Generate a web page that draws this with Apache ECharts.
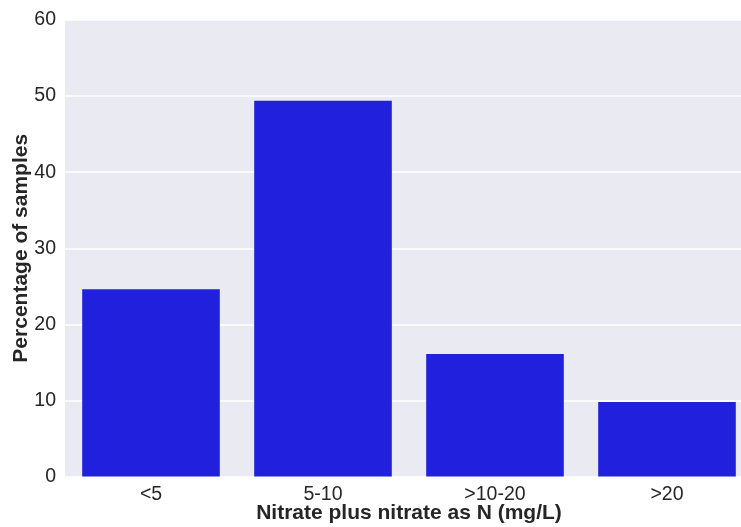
<!DOCTYPE html>
<html>
<head>
<meta charset="utf-8">
<script src="https://cdn.jsdelivr.net/npm/echarts@6/dist/echarts.min.js"></script>
<style>
html,body{margin:0;padding:0;background:#fff;overflow:hidden;}
#c{width:741px;height:527px;}
</style>
</head>
<body>
<div id="c"></div>
<script>
const categories = ["<5", "5-10", ">10-20", ">20"];
const percentages = [24.6, 49.4, 16.1, 9.8];
const yTicks = [0, 10, 20, 30, 40, 50, 60];

const chart = echarts.init(document.getElementById('c'), null, {renderer: 'canvas'});
const font = '"Liberation Sans", Arial, sans-serif';
chart.setOption({
  animation: false,
  backgroundColor: '#ffffff',
  grid: {
    left: 65, top: 20, width: 688, height: 456.5,
    outerBoundsMode: 'none',
    containLabel: false,
    show: true, backgroundColor: '#EAEAF2', borderWidth: 0
  },
  xAxis: {
    type: 'category',
    data: categories,
    axisLine: {show: false},
    axisTick: {show: false},
    splitLine: {show: false},
    axisLabel: {color: '#262626', fontSize: 19.5, fontFamily: font, margin: 8},
    name: 'Nitrate plus nitrate as N (mg/L)',
    nameLocation: 'middle',
    nameGap: 26,
    nameMoveOverlap: false,
    nameTextStyle: {color: '#262626', fontSize: 21, fontWeight: 'bold', fontFamily: font}
  },
  yAxis: {
    type: 'value',
    min: yTicks[0],
    max: yTicks[yTicks.length - 1],
    interval: 10,
    axisLine: {show: false},
    axisTick: {show: false},
    splitLine: {show: true, lineStyle: {color: '#ffffff', width: 1.5}},
    axisLabel: {color: '#262626', fontSize: 19.5, fontFamily: font, margin: 9},
    name: 'Percentage of samples',
    nameLocation: 'middle',
    nameGap: 33,
    nameMoveOverlap: false,
    nameTextStyle: {color: '#262626', fontSize: 21, fontWeight: 'bold', fontFamily: font}
  },
  series: [{
    type: 'bar',
    data: percentages,
    barCategoryGap: '20%',
    itemStyle: {color: '#2020DD'}
  }]
});
</script>
</body>
</html>
